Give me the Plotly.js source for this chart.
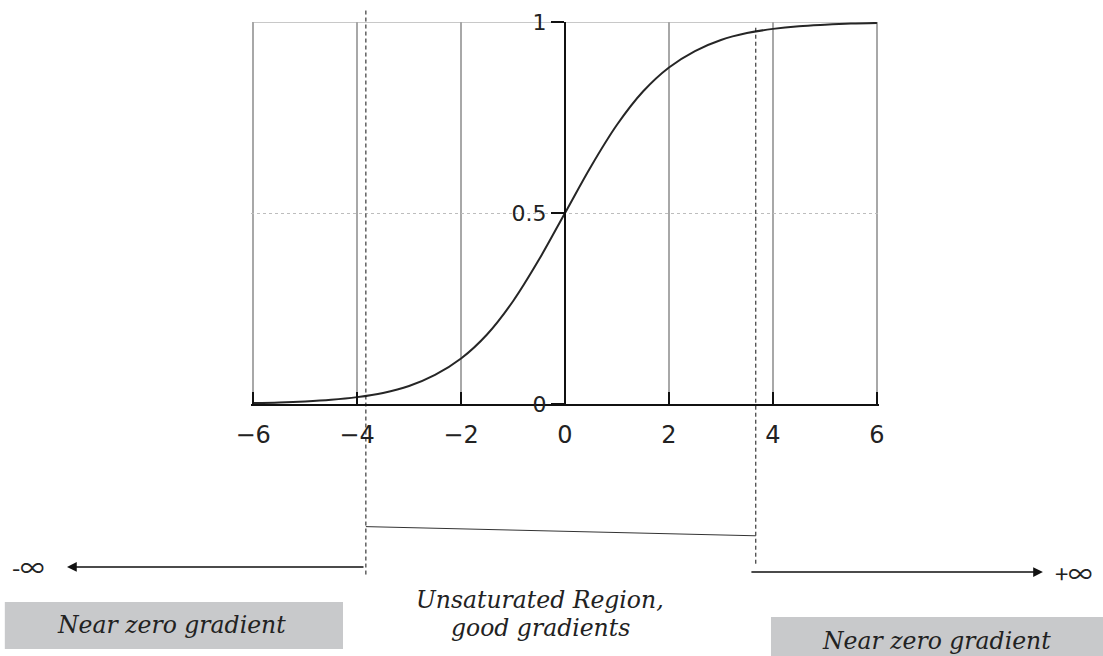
<!DOCTYPE html>
<html>
<head>
<meta charset="utf-8">
<script src="https://cdn.plot.ly/plotly-3.0.1.min.js"></script>
<style>html,body{margin:0;padding:0;background:#fff;}#chart{width:1103px;height:656px;}</style>
</head>
<body>
<div id="chart"></div>
<script>
// Sigmoid curve
const curveX = [-6, -5.5, -5, -4.5, -4, -3.5, -3, -2.5, -2, -1.5, -1, -0.5, 0, 0.5, 1, 1.5, 2, 2.5, 3, 3.5, 4, 4.5, 5, 5.5, 6];
const curveY = [0.0025, 0.004, 0.0067, 0.011, 0.018, 0.029, 0.047, 0.076, 0.119, 0.182, 0.269, 0.378, 0.5, 0.622, 0.731, 0.818, 0.881, 0.924, 0.953, 0.971, 0.982, 0.989, 0.993, 0.996, 0.9975];
// x tick labels
const xTicks = [-6, -4, -2, 0, 2, 4, 6];
// y tick labels
const yTicks = [0, 0.5, 1];
const yTickText = ['0', '0.5', '1'];
// boundaries of the unsaturated region (dashed lines)
const regionBounds = [-3.83, 3.67];
// texts
const leftLabel = 'Near zero gradient';
const rightLabel = 'Near zero gradient';
const centerLines = ['Unsaturated Region,', 'good gradients'];
const minusInf = '-∞';
const plusInf = '+∞';

const serif = {family: 'DejaVu Serif', size: 23.5, color: '#222'};
const infFont = {family: 'Noto Sans CJK SC, DejaVu Sans', size: 24, color: '#222'};

const data = [{
  type: 'scatter', mode: 'lines', x: curveX, y: curveY,
  line: {color: '#262626', width: 2, shape: 'spline', smoothing: 1},
  cliponaxis: false, hoverinfo: 'skip'
}];

const shapes = [
  {type: 'line', xref: 'x', yref: 'y', x0: xTicks[0], x1: xTicks[xTicks.length - 1], y0: 1, y1: 1,
   line: {color: '#c8c8c8', width: 2}, layer: 'below'},
  {type: 'line', xref: 'x', yref: 'paper', x0: regionBounds[0], x1: regionBounds[0], y0: 1.03, y1: -0.452,
   line: {color: '#111', width: 1, dash: '4px,3px'}},
  {type: 'line', xref: 'x', yref: 'paper', x0: regionBounds[1], x1: regionBounds[1], y0: 0.985, y1: -0.426,
   line: {color: '#111', width: 1, dash: '4px,3px'}},
  {type: 'line', xref: 'x', yref: 'paper', x0: regionBounds[0], x1: regionBounds[1], y0: -0.321, y1: -0.345,
   line: {color: '#333', width: 1}},
  {type: 'rect', xref: 'paper', yref: 'paper', x0: -0.392, x1: 0.1465, y0: -0.5183, y1: -0.6414,
   fillcolor: '#c8c9cb', line: {width: 0}},
  {type: 'rect', xref: 'paper', yref: 'paper', x0: 0.828, x1: 1.36, y0: -0.5576, y1: -0.67,
   fillcolor: '#c8c9cb', line: {width: 0}}
];

const mid = {xanchor: 'center', yanchor: 'middle', showarrow: false, xref: 'paper', yref: 'paper'};
const annotations = [
  {xref: 'paper', yref: 'paper', x: -0.293, y: -0.4267, ax: 298, ay: 0, axref: 'pixel', ayref: 'pixel',
   showarrow: true, arrowhead: 2, arrowsize: 1.3, arrowwidth: 1.5, arrowcolor: '#111', text: ''},
  {xref: 'paper', yref: 'paper', x: 1.261, y: -0.4398, ax: -293, ay: 0, axref: 'pixel', ayref: 'pixel',
   showarrow: true, arrowhead: 2, arrowsize: 1.3, arrowwidth: 1.5, arrowcolor: '#111', text: ''},
  Object.assign({}, mid, {x: -0.355, y: -0.4267, text: minusInf, font: infFont}),
  Object.assign({}, mid, {x: 1.31, y: -0.4398, text: plusInf, font: infFont}),
  Object.assign({}, mid, {x: -0.127, y: -0.5785, text: '<i>' + leftLabel + '</i>', font: serif}),
  Object.assign({}, mid, {x: 1.0908, y: -0.6204, text: '<i>' + rightLabel + '</i>', font: serif}),
  Object.assign({}, mid, {x: 0.4602, y: -0.5131, text: '<i>' + centerLines[0] + '</i>', font: serif}),
  Object.assign({}, mid, {x: 0.4602, y: -0.5864, text: '<i>' + centerLines[1] + '</i>', font: serif})
];

const layout = {
  width: 1103, height: 656,
  margin: {l: 251, r: 224, t: 22, b: 252},
  paper_bgcolor: '#fff', plot_bgcolor: '#fff',
  showlegend: false,
  xaxis: {
    range: [-6.04, 6.04], tickmode: 'array', tickvals: xTicks,
    showgrid: true, gridcolor: '#a8a8a8', gridwidth: 2, zeroline: false,
    showline: true, linecolor: '#111', linewidth: 2,
    ticks: 'inside', ticklen: 12, tickwidth: 2, tickcolor: '#111',
    ticklabelstandoff: 8,
    tickfont: {family: 'DejaVu Sans', size: 24, color: '#222'}
  },
  yaxis: {
    range: [0, 1], anchor: 'free', position: 0.5,
    tickmode: 'array', tickvals: yTicks, ticktext: yTickText,
    showgrid: true, gridcolor: '#bdbdbd', gridwidth: 1, griddash: 'dot', zeroline: false,
    showline: true, linecolor: '#111', linewidth: 2,
    ticks: 'outside', ticklen: 13, tickwidth: 2, tickcolor: '#111',
    tickfont: {family: 'DejaVu Sans', size: 22, color: '#222'}
  },
  shapes: shapes,
  annotations: annotations
};

Plotly.newPlot('chart', data, layout, {displayModeBar: false, staticPlot: true});
</script>
</body>
</html>
